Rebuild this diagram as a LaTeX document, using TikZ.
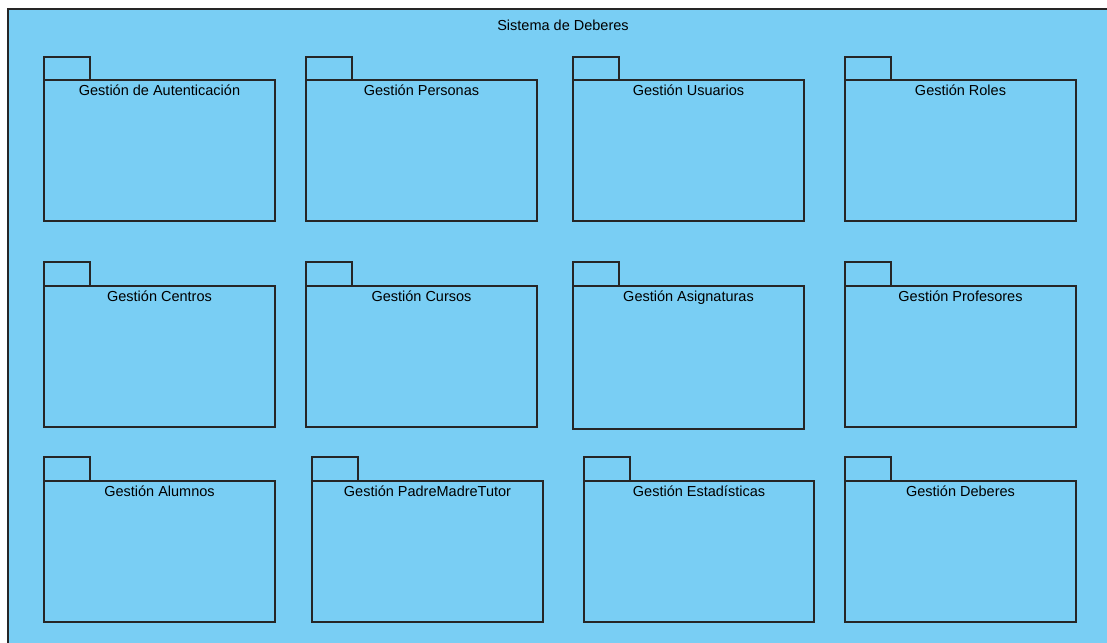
\documentclass[tikz,border=0pt]{standalone}
\usepackage{fontspec}
\setmainfont{Liberation Sans}
\definecolor{pkgblue}{RGB}{121,206,244}
\tikzset{
    pkgbody/.style={draw=black!85, fill=pkgblue, line width=1.1pt, inner sep=0pt, outer sep=0pt,
        minimum width=231pt, minimum height=141pt, anchor=north west},
    pkgtab/.style={draw=black!85, fill=pkgblue, line width=1.1pt},
    pkgname/.style={anchor=north, inner sep=1pt, yshift=-3.5pt, font=\fontsize{14.5}{17}\selectfont}
}

\begin{document}
\begin{tikzpicture}[x=1pt, y=-1pt]
    \useasboundingbox (0, 0) rectangle (1107, 642);
    \clip (0, 0) rectangle (1107, 642);
    \fill[white] (0, 0) rectangle (1107, 642);
    %\draw[lightgray] (0, 0) grid[step=50] (1107, 642);
    \draw[draw=black!85, fill=pkgblue, line width=1.2pt] (8, 9) rectangle (1130, 670);
    \node[font=\fontsize{14.5}{17}\selectfont] (sys) at (563, 25.5) {Sistema de Deberes};

    % first row
    \node[pkgbody, label={[pkgname]north:Gestión de Autenticación}] (auth) at (44, 80) {};
    \node[pkgbody, label={[pkgname]north:Gestión Personas}] (pers) at (306, 80) {};
    \node[pkgbody, label={[pkgname]north:Gestión Usuarios}] (usu) at (573, 80) {};
    \node[pkgbody, label={[pkgname]north:Gestión Roles}] (roles) at (845, 80) {};
    \draw[pkgtab] (auth.north west) rectangle ++(46, -23);
    \draw[pkgtab] (pers.north west) rectangle ++(46, -23);
    \draw[pkgtab] (usu.north west) rectangle ++(46, -23);
    \draw[pkgtab] (roles.north west) rectangle ++(46, -23);

    % second row
    \node[pkgbody, label={[pkgname]north:Gestión Centros}] (cent) at (44, 286) {};
    \node[pkgbody, label={[pkgname]north:Gestión Cursos}] (curs) at (306, 286) {};
    \node[pkgbody, minimum height=143pt, label={[pkgname]north:Gestión Asignaturas}] (asig) at (573, 286) {};
    \node[pkgbody, label={[pkgname]north:Gestión Profesores}] (prof) at (845, 286) {};
    \draw[pkgtab] (cent.north west) rectangle ++(46, -24);
    \draw[pkgtab] (curs.north west) rectangle ++(46, -24);
    \draw[pkgtab] (asig.north west) rectangle ++(46, -24);
    \draw[pkgtab] (prof.north west) rectangle ++(46, -24);

    % third row
    \node[pkgbody, label={[pkgname]north:Gestión Alumnos}] (alum) at (44, 481) {};
    \node[pkgbody, label={[pkgname]north:Gestión PadreMadreTutor}] (tutor) at (312, 481) {};
    \node[pkgbody, minimum width=230pt, label={[pkgname]north:Gestión Estadísticas}] (estad) at (584, 481) {};
    \node[pkgbody, label={[pkgname]north:Gestión Deberes}] (deb) at (845, 481) {};
    \draw[pkgtab] (alum.north west) rectangle ++(46, -24);
    \draw[pkgtab] (tutor.north west) rectangle ++(46, -24);
    \draw[pkgtab] (estad.north west) rectangle ++(46, -24);
    \draw[pkgtab] (deb.north west) rectangle ++(46, -24);
\end{tikzpicture}
\end{document}
